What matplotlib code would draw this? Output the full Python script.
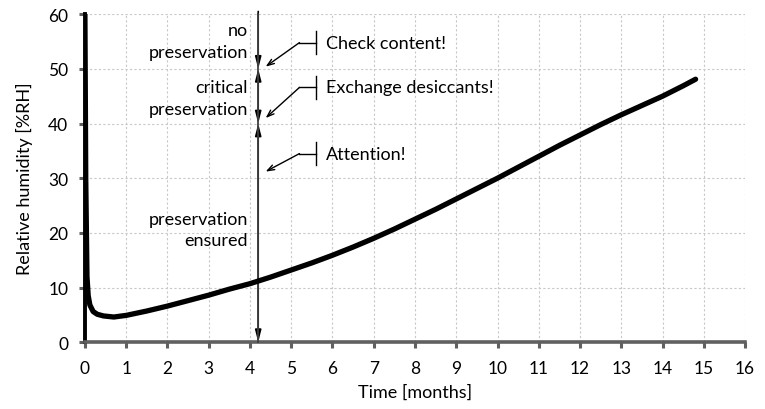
import numpy as np
import matplotlib.pyplot as plt

plt.rcParams['font.family'] = ['Lato', 'DejaVu Sans']

# humidity curve
months = [0.0, 0.02, 0.05, 0.08, 0.12, 0.2, 0.3, 0.45, 0.7, 1.0, 1.5, 2.0, 2.5, 3.0,
          3.5, 4.0, 4.5, 5.0, 5.5, 6.0, 6.5, 7.0, 7.5, 8.0, 8.5, 9.0, 9.5, 10.0,
          10.5, 11.0, 11.5, 12.0, 12.5, 13.0, 13.5, 14.0, 14.5, 14.8]
rh = [60, 30, 12, 8.5, 6.8, 5.6, 5.1, 4.8, 4.6, 4.9, 5.7, 6.6, 7.6, 8.6,
      9.7, 10.7, 11.9, 13.2, 14.5, 15.9, 17.4, 19.0, 20.7, 22.5, 24.3, 26.2, 28.1, 30.0,
      32.0, 34.0, 36.0, 37.9, 39.8, 41.6, 43.3, 45.0, 46.9, 48.1]

x_marker = 4.2
zone_limits = [60, 50, 40, 0]
zone_labels = ['no\npreservation', 'critical\npreservation', 'preservation\nensured']
zone_label_y = [55.1, 44.7, 20.6]

# callout text, text y, arrow tip y
callouts = [('Check content!', 54.8, 50.4),
            ('Exchange desiccants!', 46.6, 41.0),
            ('Attention!', 34.5, 31.2)]

fig, ax = plt.subplots(figsize=(7.65, 4.10), dpi=100)
fig.subplots_adjust(left=0.111, right=0.974, bottom=0.163, top=0.963)

ax.plot(months, rh, color='black', lw=3.8, solid_capstyle='round',
        solid_joinstyle='round', zorder=5)

ax.set_xlim(0, 16)
ax.set_ylim(0, 60)
ax.set_xticks(range(0, 17))
ax.set_yticks(range(0, 61, 10))
ax.grid(True, color='#c8c8c8', linestyle=(0, (2, 2)), lw=0.8)
ax.set_axisbelow(True)

for s in ['top', 'right']:
    ax.spines[s].set_visible(False)
ax.spines['left'].set_color('black')
ax.spines['left'].set_linewidth(2.8)
ax.spines['bottom'].set_color('#606060')
ax.spines['bottom'].set_linewidth(2.6)
ax.tick_params(axis='both', color='#606060', width=2.2, length=4, labelsize=12.5)
ax.tick_params(axis='y', pad=8)
ax.tick_params(axis='x', pad=9)
ax.set_xlabel('Time [months]', fontsize=13, labelpad=5)
ax.set_ylabel('Relative humidity [%RH]', fontsize=13, labelpad=11)

# vertical marker with zone arrows
ax.plot([x_marker, x_marker], [0, 60], color='#404040', lw=1.3, zorder=4, clip_on=False)
ax.annotate('', xy=(x_marker, 50), xytext=(x_marker, 60.5),
            arrowprops=dict(arrowstyle='-|>,head_width=0.18,head_length=0.7',
                            color='black', lw=1.2, shrinkA=0, shrinkB=0), annotation_clip=False)
for top, bot in zip(zone_limits[1:-1], zone_limits[2:]):
    ax.annotate('', xy=(x_marker, bot), xytext=(x_marker, top),
                arrowprops=dict(arrowstyle='<|-|>,head_width=0.18,head_length=0.7',
                                color='black', lw=1.2, shrinkA=0, shrinkB=0))

for lab, y in zip(zone_labels, zone_label_y):
    ax.text(3.95, y, lab, ha='right', va='center', fontsize=13, linespacing=1.45)

for txt, ty, tip in callouts:
    bar_x = 5.6
    ax.plot([bar_x, bar_x], [ty - 2.1, ty + 2.1], color='black', lw=1, clip_on=False)
    ax.plot([bar_x, 5.2], [ty, ty], color='black', lw=1)
    ax.annotate('', xy=(4.38, tip), xytext=(5.2, ty),
                arrowprops=dict(arrowstyle='->,head_width=0.18,head_length=0.5',
                                color='black', lw=1, shrinkA=0, shrinkB=0))
    ax.text(5.85, ty, txt, ha='left', va='center', fontsize=13)

fig.savefig('out.png', dpi=100)
